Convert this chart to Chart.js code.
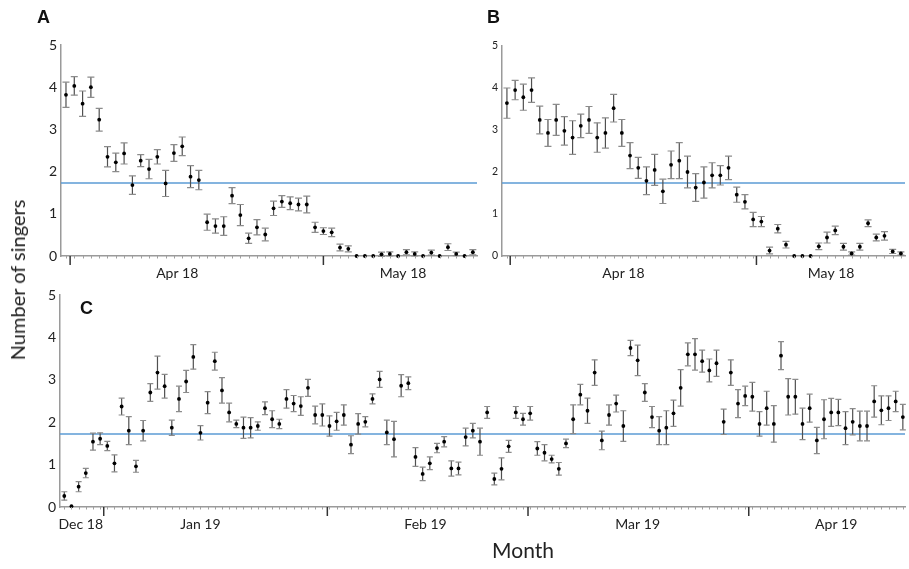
<!DOCTYPE html>
<html>
<head>
<meta charset="utf-8">
<script src="https://cdn.jsdelivr.net/npm/chart.js@4.4.1/dist/chart.umd.min.js"></script>
<style>
  body { margin: 0; background: #fff; }
  #wrap { position: relative; width: 909px; height: 569px; overflow: hidden; font-family: Lato, "Open Sans", sans-serif; }
  canvas { position: absolute; left: 0; top: 0; }
  .panel { position: absolute; font: bold 18px "Liberation Sans", Arial, sans-serif; line-height: 18px; color: #111; }
  .title { position: absolute; font-size: 20px; color: #222; white-space: nowrap; transform: translate(-50%, -50%); }
</style>
</head>
<body>
<div id="wrap">
  <canvas id="chartA" width="909" height="569"></canvas>
  <canvas id="chartB" width="909" height="569"></canvas>
  <canvas id="chartC" width="909" height="569"></canvas>
  <div class="panel" style="left:37px; top:8px;">A</div>
  <div class="panel" style="left:487px; top:8px;">B</div>
  <div class="panel" style="left:80px; top:299px;">C</div>
  <div class="title" style="left:17px; top:280px; transform:translate(-50%,-50%) rotate(-90deg);">Number of singers</div>
  <div class="title" style="left:523px; top:549px; font-size:21px;">Month</div>
</div>
<script>
// Panel A: spring 2018 (daily means)
const valuesA = [3.82, 4.03, 3.61, 4.0, 3.23, 2.35, 2.22, 2.43, 1.68, 2.26,
  2.06, 2.35, 1.72, 2.44, 2.6, 1.88, 1.8, 0.8, 0.71, 0.71,
  1.43, 0.97, 0.42, 0.68, 0.51, 1.13, 1.29, 1.25, 1.22, 1.22,
  0.68, 0.59, 0.56, 0.2, 0.17, 0, 0, 0, 0.04, 0.05,
  0, 0.09, 0.05, 0, 0.08, 0, 0.21, 0.05, 0, 0.09];
const errorsA = [0.3, 0.22, 0.3, 0.24, 0.27, 0.24, 0.22, 0.25, 0.22, 0.14,
  0.23, 0.17, 0.31, 0.2, 0.22, 0.26, 0.23, 0.19, 0.17, 0.22,
  0.19, 0.25, 0.12, 0.18, 0.15, 0.17, 0.14, 0.15, 0.15, 0.2,
  0.12, 0.08, 0.1, 0.08, 0.07, 0, 0, 0, 0.05, 0.05,
  0, 0.06, 0.05, 0, 0.06, 0, 0.08, 0.04, 0, 0.06];
const monthTicksA = [0.5, 31];
const monthLabelsA = ["Apr 18", "May 18"];
const labelAtA = [13.4, 40.6];

// Panel B
const valuesB = [3.64, 3.95, 3.78, 3.95, 3.24, 2.93, 3.24, 2.98, 2.82, 3.1,
  3.24, 2.82, 2.93, 3.52, 2.93, 2.39, 2.1, 1.79, 2.05, 1.54,
  2.17, 2.27, 2.0, 1.63, 1.75, 1.92, 1.92, 2.1, 1.46, 1.29,
  0.87, 0.82, 0.13, 0.65, 0.27, 0, 0, 0, 0.23, 0.44,
  0.61, 0.22, 0.06, 0.22, 0.78, 0.44, 0.48, 0.11, 0.06];
const errorsB = [0.36, 0.23, 0.31, 0.29, 0.33, 0.32, 0.37, 0.34, 0.4, 0.28,
  0.32, 0.35, 0.36, 0.33, 0.32, 0.31, 0.25, 0.33, 0.37, 0.29,
  0.33, 0.43, 0.38, 0.33, 0.37, 0.3, 0.23, 0.28, 0.18, 0.17,
  0.17, 0.12, 0.08, 0.1, 0.08, 0, 0, 0, 0.08, 0.13,
  0.1, 0.08, 0.04, 0.08, 0.08, 0.08, 0.1, 0.05, 0.04];
const monthTicksB = [0.4, 30.4];
const monthLabelsB = ["Apr 18", "May 18"];
const labelAtB = [14.2, 39.5];

// Panel C: winter 2018/19
const valuesC = [0.26, 0.02, 0.48, 0.8, 1.54, 1.61, 1.44, 1.03, 2.37, 1.8,
  0.96, 1.8, 2.7, 3.17, 2.85, 1.87, 2.55, 2.96, 3.54, 1.75,
  2.46, 3.44, 2.75, 2.23, 1.96, 1.87, 1.87, 1.91, 2.33, 2.07,
  1.96, 2.55, 2.44, 2.38, 2.81, 2.17, 2.17, 1.91, 2.02, 2.17,
  1.47, 1.96, 2.01, 2.55, 3.01, 1.76, 1.6, 2.86, 2.92, 1.18,
  0.78, 1.03, 1.39, 1.54, 0.91, 0.91, 1.65, 1.8, 1.54, 2.23,
  0.66, 0.9, 1.43, 2.23, 2.07, 2.21, 1.38, 1.28, 1.13, 0.9,
  1.5, 2.07, 2.65, 2.27, 3.17, 1.57, 2.17, 2.44, 1.91, 3.75,
  3.46, 2.7, 2.12, 1.8, 1.87, 2.21, 2.81, 3.6, 3.6, 3.44,
  3.22, 3.39, 2.01, 3.17, 2.44, 2.62, 2.6, 1.96, 2.33, 1.96,
  3.57, 2.6, 2.6, 1.96, 2.33, 1.57, 2.07, 2.23, 2.23, 1.86,
  2.01, 1.91, 1.91, 2.49, 2.28, 2.33, 2.49, 2.12];
const errorsC = [0.1, 0, 0.12, 0.11, 0.2, 0.14, 0.11, 0.2, 0.2, 0.33,
  0.14, 0.24, 0.21, 0.39, 0.28, 0.18, 0.3, 0.26, 0.29, 0.17,
  0.26, 0.21, 0.3, 0.22, 0.09, 0.25, 0.24, 0.1, 0.15, 0.2,
  0.11, 0.22, 0.19, 0.22, 0.2, 0.21, 0.26, 0.24, 0.21, 0.24,
  0.21, 0.24, 0.12, 0.12, 0.19, 0.29, 0.42, 0.26, 0.15, 0.22,
  0.16, 0.15, 0.11, 0.12, 0.18, 0.15, 0.21, 0.17, 0.32, 0.14,
  0.14, 0.26, 0.14, 0.14, 0.14, 0.16, 0.16, 0.19, 0.09, 0.15,
  0.1, 0.34, 0.24, 0.3, 0.3, 0.22, 0.24, 0.2, 0.36, 0.18,
  0.36, 0.21, 0.25, 0.33, 0.4, 0.31, 0.43, 0.27, 0.37, 0.26,
  0.27, 0.31, 0.3, 0.3, 0.33, 0.23, 0.34, 0.29, 0.4, 0.43,
  0.33, 0.43, 0.41, 0.37, 0.33, 0.31, 0.46, 0.33, 0.31, 0.39,
  0.31, 0.35, 0.35, 0.37, 0.34, 0.29, 0.24, 0.3];
const monthTicksC = [5.5, 36.7, 64.7, 95.5];
const monthLabelsC = ["Dec 18", "Jan 19", "Feb 19", "Mar 19", "Apr 19"];
const labelAtC = [2.3, 19.0, 50.4, 80.0, 107.7];

const yTicks = [0, 1, 2, 3, 4, 5];

// draws the mean line, the error bars and the month axis
const panelDecor = {
  id: "panelDecor",
  beforeDatasetsDraw(chart, args, opts) {
    const { ctx, chartArea, scales: { x, y } } = chart;
    ctx.save();
    // mean line
    const ry = y.getPixelForValue(opts.ref);
    ctx.strokeStyle = "#5b9bd5";
    ctx.lineWidth = 1.5;
    ctx.beginPath();
    ctx.moveTo(chartArea.left, ry);
    ctx.lineTo(chartArea.right, ry);
    ctx.stroke();

    // error bars
    const ds = chart.data.datasets[0];
    ctx.lineWidth = 1.2;
    ds.data.forEach((p, i) => {
      const e = ds.errors[i];
      if (!e) return;
      const px = x.getPixelForValue(p.x);
      const top = y.getPixelForValue(p.y + e);
      const bot = y.getPixelForValue(p.y - e);
      ctx.strokeStyle = "#505050";
      ctx.beginPath();
      ctx.moveTo(px, top);
      ctx.lineTo(px, bot);
      ctx.stroke();
      ctx.strokeStyle = "#8c8c8c";
      ctx.beginPath();
      ctx.moveTo(px - opts.cap, top);
      ctx.lineTo(px + opts.cap, top);
      ctx.moveTo(px - opts.cap, bot);
      ctx.lineTo(px + opts.cap, bot);
      ctx.stroke();
    });
    ctx.restore();
  },
  afterDraw(chart, args, opts) {
    const { ctx, chartArea, scales: { x } } = chart;
    const b = chartArea.bottom;
    ctx.save();
    // small tick for every day
    ctx.strokeStyle = "#a0a0a0";
    ctx.lineWidth = 1;
    for (let v = Math.ceil(x.min); v <= x.max; v++) {
      const px = Math.round(x.getPixelForValue(v)) + 0.5;
      ctx.beginPath();
      ctx.moveTo(px, b);
      ctx.lineTo(px, b + 2.5);
      ctx.stroke();
    }
    // month boundaries
    ctx.strokeStyle = "#333";
    ctx.lineWidth = 1.5;
    opts.ticks.forEach(v => {
      const px = x.getPixelForValue(v);
      ctx.beginPath();
      ctx.moveTo(px, b);
      ctx.lineTo(px, b + 9);
      ctx.stroke();
    });
    // month names
    ctx.fillStyle = "#222";
    ctx.font = "14px Lato, 'Open Sans', sans-serif";
    ctx.textAlign = "center";
    ctx.textBaseline = "alphabetic";
    opts.labels.forEach((t, i) => {
      ctx.fillText(t, x.getPixelForValue(opts.labelAt[i]), b + 22);
    });
    ctx.restore();
  }
};

function makePanel(id, values, errors, cfg) {
  const yAxisWidth = 40;
  return new Chart(document.getElementById(id), {
    type: "scatter",
    data: {
      datasets: [{
        data: values.map((v, i) => ({ x: i, y: v })),
        errors: errors,
        pointRadius: 1.9,
        pointBackgroundColor: "#000",
        pointBorderWidth: 0,
        clip: false
      }]
    },
    options: {
      responsive: false,
      animation: false,
      layout: {
        padding: {
          left: cfg.area.left - yAxisWidth,
          top: cfg.area.top,
          right: 909 - cfg.area.right,
          bottom: 569 - cfg.area.bottom
        }
      },
      plugins: {
        legend: { display: false },
        tooltip: { enabled: false },
        panelDecor: {
          ref: cfg.ref,
          cap: cfg.cap,
          ticks: cfg.ticks,
          labels: cfg.labels,
          labelAt: cfg.labelAt
        }
      },
      scales: {
        x: {
          type: "linear",
          min: cfg.xMin,
          max: cfg.xMax,
          grid: { display: false },
          ticks: { display: false },
          border: { color: "#9a9a9a", width: 1.5 },
          afterFit: s => { s.height = 0; }
        },
        y: {
          min: 0,
          max: 5,
          afterBuildTicks: s => { s.ticks = yTicks.map(v => ({ value: v })); },
          grid: { display: false, drawTicks: false },
          border: { color: "#9a9a9a", width: 1.5 },
          ticks: {
            padding: 4,
            color: "#222",
            font: { family: "Lato, 'Open Sans', sans-serif", size: cfg.yFont }
          },
          afterFit: s => { s.width = yAxisWidth; }
        }
      }
    },
    plugins: [panelDecor]
  });
}

makePanel("chartA", valuesA, errorsA, {
  area: { left: 61, top: 45, right: 477, bottom: 256 },
  xMin: -0.6, xMax: 49.5, ref: 1.73, cap: 3.5, yFont: 14,
  ticks: monthTicksA, labels: monthLabelsA, labelAt: labelAtA
});
makePanel("chartB", valuesB, errorsB, {
  area: { left: 502, top: 46, right: 908, bottom: 256 },
  xMin: -0.6, xMax: 48.5, ref: 1.74, cap: 3.5, yFont: 10.5,
  ticks: monthTicksB, labels: monthLabelsB, labelAt: labelAtB
});
makePanel("chartC", valuesC, errorsC, {
  area: { left: 60, top: 295, right: 909, bottom: 507 },
  xMin: -0.6, xMax: 117.3, ref: 1.72, cap: 3, yFont: 14,
  ticks: monthTicksC, labels: monthLabelsC, labelAt: labelAtC
});
</script>
</body>
</html>
